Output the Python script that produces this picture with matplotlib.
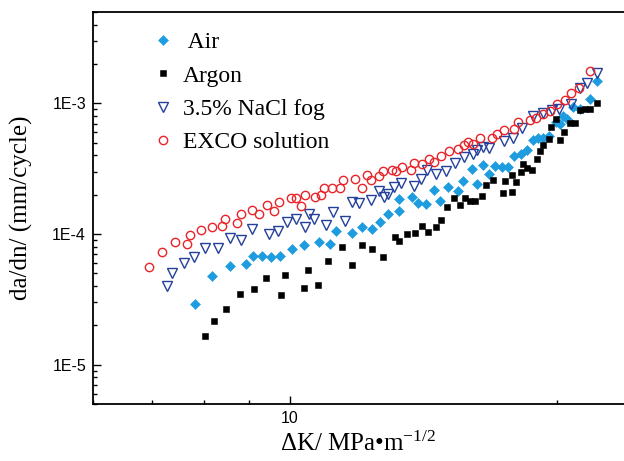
"""
    Fatigue crack growth rate da/dN versus stress intensity range dK,
    four environments, log-log scatter.
"""

import numpy as np
import matplotlib
matplotlib.use("Agg")
import matplotlib.pyplot as plt
from matplotlib.ticker import FixedLocator, LogLocator, NullFormatter, FuncFormatter

# ---------------- data ----------------
# dK in MPa m^1/2, da/dN in units of 1E-4 mm/cycle
air_dk = [7.82, 8.18, 8.57, 8.92, 9.09, 9.31, 9.52, 9.74, 10.05, 10.38, 10.78, 11.10,
          11.27, 11.74, 12.05, 12.39, 12.63, 12.90, 13.27, 13.27, 13.74, 13.95, 14.24,
          14.53, 14.77, 15.06, 15.47, 15.68, 16.03, 16.24, 16.52, 16.77, 17.04, 17.32,
          17.60, 17.89, 18.20, 18.49, 18.81, 19.05, 19.30, 19.61, 19.95, 20.16, 20.33,
          20.54, 20.87, 21.23, 21.79, 22.20]
air_rate = [0.292, 0.480, 0.570, 0.590, 0.676, 0.679, 0.667, 0.679, 0.772, 0.820, 0.864,
            0.835, 1.048, 1.012, 1.137, 1.086, 1.242, 1.421, 1.490, 1.850, 1.926, 1.716,
            1.694, 2.168, 1.795, 2.297, 2.130, 2.539, 3.134, 2.407, 3.363, 2.905, 3.340,
            3.264, 3.264, 3.988, 4.080, 4.378, 5.284, 5.404, 5.471, 5.667, 7.200, 6.998,
            8.056, 7.641, 9.370, 9.111, 10.86, 14.98]

argon_dk = [8.03, 8.22, 8.47, 8.78, 9.11, 9.40, 9.78, 9.87, 10.37, 10.47, 10.75, 11.04,
            11.44, 11.74, 12.05, 12.39, 12.74, 13.13, 13.28, 13.54, 13.83, 14.08, 14.33,
            14.60, 14.80, 15.02, 15.32, 15.57, 15.75, 15.96, 16.15, 16.45, 16.63, 16.95,
            17.37, 17.48, 17.78, 17.81, 17.97, 18.22, 18.33, 18.49, 18.73, 18.97, 19.14,
            19.30, 19.61, 19.70, 19.95, 20.16, 20.38, 20.69, 20.96, 21.23, 21.51, 21.79,
            22.20]
argon_rate = [0.167, 0.216, 0.269, 0.348, 0.378, 0.461, 0.344, 0.484, 0.387, 0.534, 0.406,
              0.619, 0.792, 0.580, 0.829, 0.768, 0.671, 0.944, 0.889, 1.000, 1.023, 1.157,
              1.030, 1.125, 1.279, 1.616, 1.873, 1.665, 1.873, 1.795, 1.786, 1.950, 2.366,
              2.584, 2.066, 2.553, 2.103, 2.820, 2.508, 2.989, 3.422, 3.230, 3.079, 3.783,
              4.324, 4.780, 5.376, 6.592, 7.641, 5.219, 6.039, 7.073, 7.073, 8.843, 9.111,
              9.111, 10.05]

nacl_dk = [7.27, 7.36, 7.59, 7.79, 8.02, 8.30, 8.56, 8.81, 9.07, 9.47, 9.70, 9.93, 10.15,
           10.40, 10.50, 10.65, 10.97, 11.19, 11.55, 11.74, 11.97, 12.36, 12.61, 12.76,
           12.90, 13.10, 13.35, 13.81, 14.06, 14.28, 14.61, 14.98, 15.35, 15.71, 16.07,
           16.25, 16.52, 16.78, 17.43, 17.83, 18.26, 18.78, 19.30, 19.73, 20.12, 20.73,
           21.23, 21.63, 22.17]
nacl_rate = [0.401, 0.507, 0.604, 0.667, 0.778, 0.782, 0.932, 0.900, 1.086, 1.005, 1.060,
             1.235, 1.302, 1.137, 1.421, 1.309, 1.165, 1.472, 1.263, 1.765, 1.716, 1.818,
             2.130, 1.926, 2.020, 2.297, 2.463, 2.325, 2.662, 3.079, 2.871, 3.042, 3.526,
             3.891, 4.080, 4.378, 4.638, 4.589, 5.155, 5.471, 6.477, 7.96, 8.43, 8.84,
             9.11, 9.95, 13.18, 14.29, 17.03]

exco_dk = [6.94, 7.18, 7.42, 7.65, 7.72, 7.95, 8.18, 8.38, 8.45, 8.72, 8.81, 9.06, 9.23,
           9.43, 9.60, 9.73, 10.03, 10.15, 10.29, 10.39, 10.68, 10.84, 10.93, 11.16, 11.39,
           11.48, 11.83, 12.05, 12.22, 12.33, 12.61, 12.75, 13.02, 13.16, 13.39, 13.68,
           13.80, 14.10, 14.36, 14.52, 14.79, 15.10, 15.47, 15.71, 15.89, 16.10, 16.37,
           16.88, 17.10, 17.43, 17.89, 18.06, 18.65, 18.94, 19.28, 19.64, 19.98, 20.42,
           20.73, 21.20, 21.79]
exco_rate = [0.557, 0.725, 0.869, 0.835, 0.977, 1.08, 1.125, 1.145, 1.295, 1.213, 1.414,
             1.533, 1.414, 1.674, 1.498, 1.755, 1.883, 1.883, 1.636, 1.995, 1.926, 1.985,
             2.245, 2.257, 2.257, 2.584, 2.662, 2.273, 2.836, 2.584, 2.772, 3.042, 3.079,
             3.042, 3.264, 3.079, 3.501, 3.464, 3.736, 3.589, 3.938, 4.324, 4.456, 4.780,
             5.066, 4.925, 5.471, 5.404, 5.871, 6.300, 6.411, 7.250, 7.457, 7.680, 8.244,
             8.736, 9.83, 10.67, 12.13, 13.18, 17.86]

labels = [" Air", "Argon", "3.5% NaCl fog", "EXCO solution"]

SERIF = "Liberation Serif"
SANS = "Liberation Sans"


def main():
    plt.rcParams["mathtext.fontset"] = "custom"
    plt.rcParams["mathtext.rm"] = SERIF
    plt.rcParams["mathtext.default"] = "regular"

    fig = plt.figure(figsize=(6.24, 4.61), dpi=100)
    ax = fig.add_axes([0.149, 0.1236, 0.851, 0.850])
    ax.set_xscale("log")
    ax.set_yscale("log")

    scale = 1e-4
    ax.plot(air_dk, np.array(air_rate) * scale, "D", ms=5.3, color="#1E9CE0",
            mec="#1E9CE0", mew=0.4, label=labels[0])
    ax.plot(argon_dk, np.array(argon_rate) * scale, "s", ms=4.8, color="black",
            mew=0.4, label=labels[1])
    ax.plot(nacl_dk, np.array(nacl_rate) * scale, "v", ms=7, mfc="none",
            mec="#23409A", mew=1.0, label=labels[2])
    ax.plot(exco_dk, np.array(exco_rate) * scale, "o", ms=6, mfc="none",
            mec="#E8242A", mew=1.0, label=labels[3])

    ax.set_xlim(6.0, 23.8)
    ax.set_ylim(5e-6, 5e-3)

    # ticks
    ax.xaxis.set_major_locator(FixedLocator([10]))
    ax.xaxis.set_major_formatter(FuncFormatter(lambda v, p: "%d" % v))
    ax.xaxis.set_minor_locator(LogLocator(base=10, subs=np.arange(2, 10)))
    ax.xaxis.set_minor_formatter(NullFormatter())
    ax.yaxis.set_major_locator(LogLocator(base=10))
    ax.yaxis.set_major_formatter(FuncFormatter(lambda v, p: "1E%d" % round(np.log10(v))))
    ax.yaxis.set_minor_locator(LogLocator(base=10, subs=np.arange(2, 10)))
    ax.yaxis.set_minor_formatter(NullFormatter())
    ax.tick_params(which="both", direction="in", top=False, right=False, width=1.0)
    ax.tick_params(which="major", length=6, pad=5, labelsize=11.5)
    ax.tick_params(which="minor", length=3.2)
    for lab in ax.get_xticklabels() + ax.get_yticklabels():
        lab.set_fontfamily(SANS)

    for side in ["left", "bottom", "top"]:
        ax.spines[side].set_linewidth(1.3)
    ax.spines["right"].set_visible(False)

    ax.set_xlabel("\u0394K/ MPa\u2022m$^{-1/2}$", fontfamily=SERIF, fontsize=18, labelpad=4)
    ax.set_ylabel("da/dn/ (mm/cycle)", fontfamily=SERIF, fontsize=18)
    ax.yaxis.set_label_coords(-0.113, 0.5)

    ax.legend(loc="upper left", bbox_to_anchor=(0.1096, 0.950), frameon=False,
              prop={"family": SERIF, "size": 17}, handlelength=1.0, handletextpad=0.35,
              labelspacing=0.50, borderaxespad=0, borderpad=0, numpoints=1)

    fig.savefig("out.png", dpi=100)


if __name__ == "__main__":
    main()
